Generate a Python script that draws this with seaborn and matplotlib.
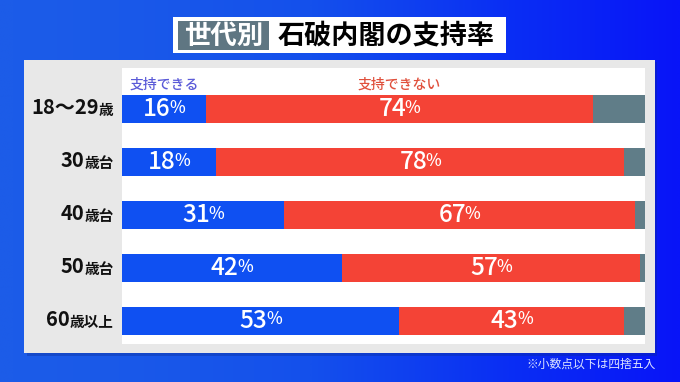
import numpy as np
import pandas as pd
import matplotlib.pyplot as plt
import seaborn as sns
from matplotlib.colors import LinearSegmentedColormap
from matplotlib.patches import Rectangle

# data
ages = ["18〜29歳", "30歳台", "40歳台", "50歳台", "60歳以上"]
age_nums = ["18〜29", "30", "40", "50", "60"]
age_units = ["歳", "歳台", "歳台", "歳台", "歳以上"]
support = [16, 18, 31, 42, 53]
oppose = [74, 78, 67, 57, 43]
other = [10, 4, 2, 1, 4]

BLUE = "#0f50f2"
RED = "#f44336"
GRAY = "#607d88"
FONT = ["Noto Sans CJK JP", "DejaVu Sans"]

sns.set_theme(style="white")
plt.rcParams["font.family"] = FONT

W, H = 680, 382
fig = plt.figure(figsize=(W / 100, H / 100), dpi=100)

# background gradient
bg = fig.add_axes([0, 0, 1, 1])
bg_cmap = LinearSegmentedColormap.from_list("bg", ["#1c5ce8", "#1450ec", "#0a2ef4", "#0814f8"])
xx = np.linspace(0, 1, 400)
grad = np.tile(xx ** 1.4, (50, 1))
bg.imshow(grad, cmap=bg_cmap, aspect="auto", extent=[0, 1, 0, 1])
bg.set_xlim(0, 1)
bg.set_ylim(0, 1)
bg.axis("off")


def px(x0, y0, w, h):
    return [x0 / W, 1 - (y0 + h) / H, w / W, h / H]


# gray panel
bg.add_patch(Rectangle((27 / W, 1 - 356 / H), 630 / W, 294 / H,
                       transform=bg.transAxes, color="#0a2a90", alpha=0.35, lw=0))
bg.add_patch(Rectangle((24 / W, 1 - 353 / H), 631 / W, 293 / H,
                       transform=bg.transAxes, color="#e8e8e8", lw=0))

# title boxes
bg.add_patch(Rectangle((173 / W, 1 - 53 / H), 333 / W, 36 / H,
                       transform=bg.transAxes, color="white", lw=0))
bg.add_patch(Rectangle((178 / W, 1 - 50 / H), 91 / W, 29 / H,
                       transform=bg.transAxes, color="#5f7682", lw=0))
fig.text(223.5 / W, 1 - 36 / H, "世代別", color="white", fontsize=19,
         fontweight="bold", ha="center", va="center")
fig.text(386 / W, 1 - 36 / H, "石破内閣の支持率", color="black", fontsize=19.5,
         fontweight="bold", ha="center", va="center")

# footnote
fig.text(656 / W, 1 - 364 / H, "※小数点以下は四捨五入", color="#dfe6ff",
         fontsize=8.5, ha="right", va="center")

# stacked bars
df = pd.DataFrame({"age": ages, "support": support, "oppose": oppose, "other": other})
df["left_red"] = df["support"] + df["oppose"]
df["total"] = df["left_red"] + df["other"]

ax = fig.add_axes(px(122, 68, 523, 276))
ax.set_facecolor("white")
bar_kw = dict(y="age", width=0.53, ax=ax, saturation=1, orient="h", linewidth=0)
sns.barplot(data=df, x="total", color=GRAY, **bar_kw)
sns.barplot(data=df, x="left_red", color=RED, **bar_kw)
sns.barplot(data=df, x="support", color=BLUE, **bar_kw)
ax.set_xlim(0, 100)
ax.set_ylim(4.44, -0.77)
ax.set_xlabel("")
ax.set_ylabel("")
ax.set_xticks([])
ax.set_yticks([])
for s in ax.spines.values():
    s.set_visible(False)

# legend labels
ax.text(1.5, -0.45, "支持できる", color="#5a5ad8", fontsize=10, fontweight="medium",
        va="center", ha="left")
ax.text(45, -0.45, "支持できない", color="#e0503c", fontsize=10, fontweight="medium",
        va="center", ha="left")


def pct_label(x, y, value):
    t = ax.annotate(str(value), (x, y), xytext=(-5, 0), textcoords="offset points",
                    color="white", fontsize=17.5, fontweight="medium",
                    ha="center", va="center")
    ax.annotate("%", xy=(1, 0.2), xycoords=t, xytext=(-1, 0), textcoords="offset points",
                color="white", fontsize=12, fontweight="medium", ha="left", va="bottom")


for i, row in df.iterrows():
    pct_label(row["support"] / 2, i, row["support"])
    pct_label(row["support"] + row["oppose"] / 2, i, row["oppose"])

# age labels, unit part smaller
for i in range(len(ages)):
    unit = ax.annotate(age_units[i], (0, i), xytext=(-6, -1), textcoords="offset points",
                       color="#111111", fontsize=10.5, fontweight="bold",
                       ha="right", va="center")
    ax.annotate(age_nums[i], xy=(0, 0.03), xycoords=unit, color="#111111",
                fontsize=14.5, fontweight="bold", ha="right", va="bottom")

fig.savefig("out.png", dpi=100)
